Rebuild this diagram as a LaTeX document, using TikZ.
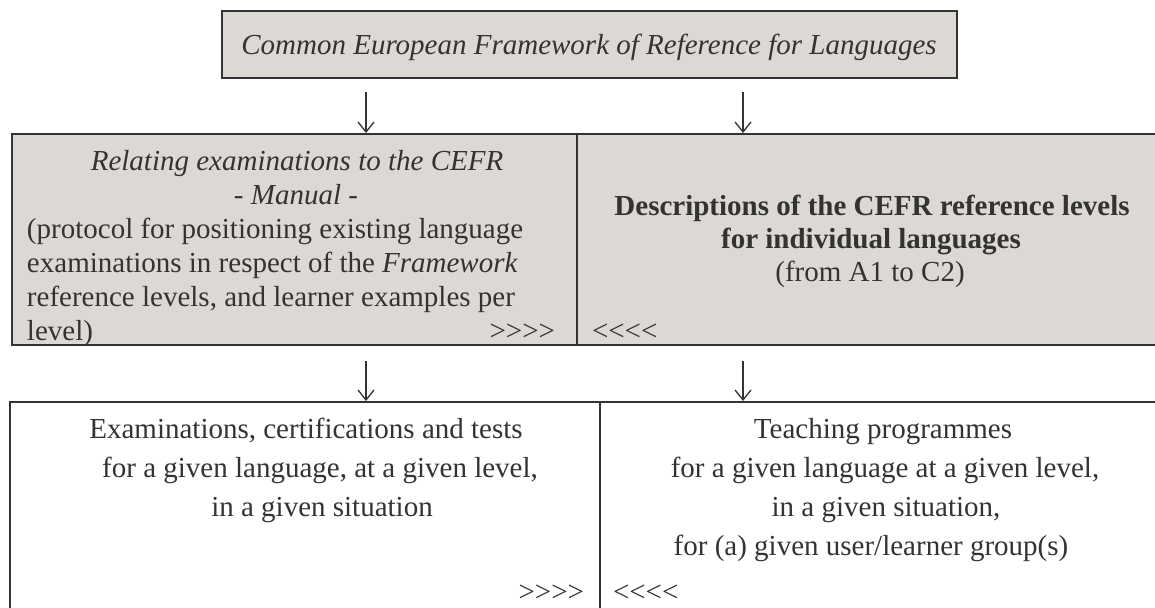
\documentclass[tikz,border=0pt]{standalone}
\usepackage{fontspec}
\setmainfont{Liberation Serif}
\usetikzlibrary{arrows.meta}
\definecolor{boxfill}{RGB}{220,216,212}
\definecolor{ink}{RGB}{51,51,51}
\newcommand\mygts{>\kern0pt>\kern0pt>\kern0pt>}
\newcommand\mylts{<\kern0pt<\kern0pt<\kern0pt<}
\begin{document}
\begin{tikzpicture}[x=1pt,y=-1pt,
  gbox/.style={draw=ink,line width=1.5pt,fill=boxfill,inner sep=0pt,outer sep=0pt},
  wbox/.style={draw=ink,line width=1.5pt,fill=white,inner sep=0pt,outer sep=0pt},
  txt/.style={text=ink,inner sep=0pt,outer sep=0pt,anchor=base,font=\fontsize{29}{34}\selectfont},
  ltxt/.style={txt,anchor=base west},
  rtxt/.style={txt,anchor=base east},
  arr/.style={draw=ink,line width=1.3pt,-{Straight Barb[length=10pt,width=16pt,line width=1.3pt]}}]
\useasboundingbox (0,0) rectangle (1155,607);
\fill[white] (0,0) rectangle (1155,607);
% boxes
\node[gbox,minimum width=735pt,minimum height=67pt] (cefr) at (589.5,44.5) {};
\node[gbox,minimum width=565pt,minimum height=211pt] (manual) at (294.5,239.5) {};
\node[gbox,minimum width=588pt,minimum height=211pt] (desc) at (871,239.5) {};
\node[wbox,minimum width=590pt,minimum height=215pt] (exam) at (305,509.5) {};
\node[wbox,minimum width=565pt,minimum height=215pt] (teach) at (882.5,509.5) {};
% arrows
\coordinate (c1) at (366,0);
\coordinate (c2) at (743,0);
\draw[arr,shorten <=14pt,shorten >=1pt] (cefr.south -| c1) -- (manual.north -| c1);
\draw[arr,shorten <=14pt,shorten >=1pt] (cefr.south -| c2) -- (desc.north -| c2);
\draw[arr,shorten <=16pt,shorten >=1pt] (manual.south -| c1) -- (exam.north -| c1);
\draw[arr,shorten <=16pt,shorten >=1pt] (desc.south -| c2) -- (teach.north -| c2);
% texts
\node[txt] (t0) at (589,55) {\itshape Common European Framework of Reference for Languages};
\node[txt] (m1) at (297,170) {\itshape Relating examinations to the CEFR};
\node[txt] (m2) at (296,204) {\itshape - Manual -};
\node[ltxt] (m3) at (27,238) {(protocol for positioning existing language};
\node[ltxt] (m4) at (27,272) {examinations in respect of the \textit{Framework}};
\node[ltxt] (m5) at (27,306) {reference levels, and learner examples per};
\node[ltxt] (m6) at (27,340) {level)};
\node[rtxt] (m7) at (555,340) {\mygts};
\node[txt] (d1) at (872,215) {\bfseries Descriptions of the CEFR reference levels};
\node[txt] (d2) at (871,248) {\bfseries for individual languages};
\node[txt] (d3) at (870,281) {(from A1 to C2)};
\node[ltxt] (d4) at (592,340) {\mylts};
\node[txt] (e1) at (306,438) {Examinations, certifications and tests};
\node[txt] (e2) at (320,477) {for a given language, at a given level,};
\node[txt] (e3) at (322,516) {in a given situation};
\node[rtxt] (e4) at (584,601) {\mygts};
\node[txt] (p1) at (883,438) {Teaching programmes};
\node[txt] (p2) at (885,477) {for a given language at a given level,};
\node[txt] (p3) at (886,516) {in a given situation,};
\node[txt] (p4) at (871,555) {for (a) given user/learner group(s)};
\node[ltxt] (p5) at (613,601) {\mylts};
\end{tikzpicture}
\end{document}
